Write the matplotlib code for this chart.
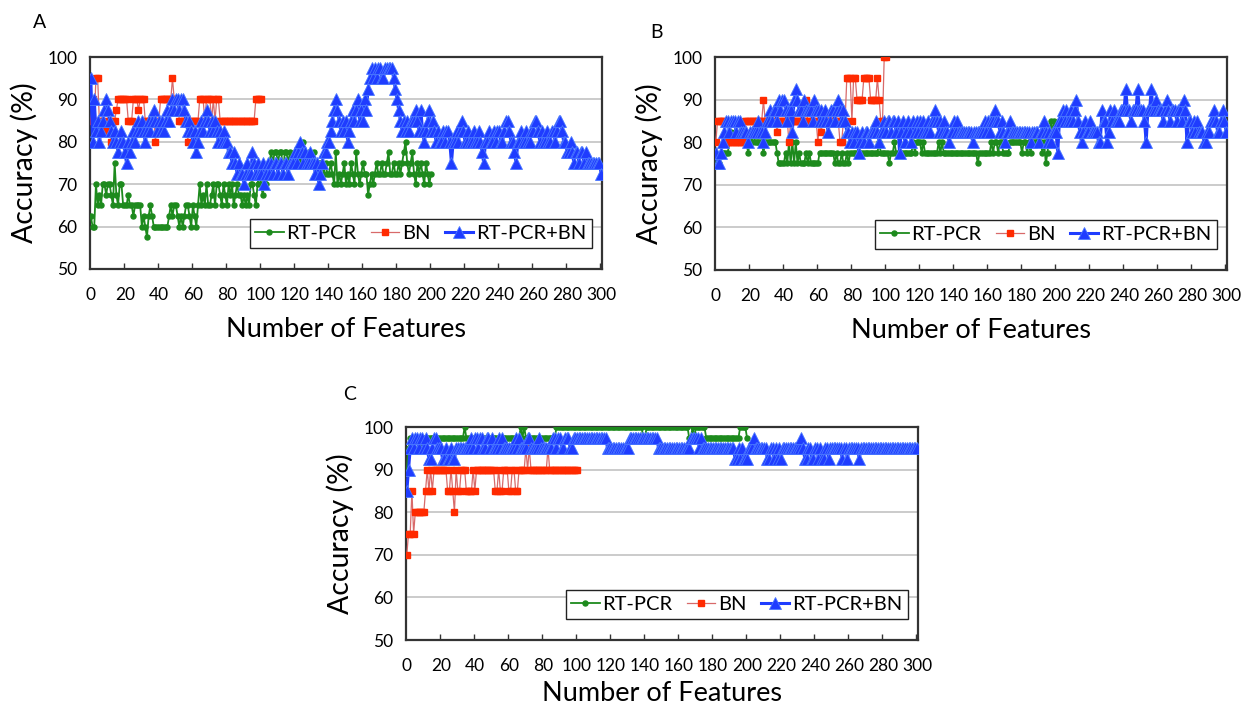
import matplotlib
matplotlib.use("Agg")
import matplotlib.pyplot as plt
from matplotlib.ticker import FixedLocator

plt.rcParams['font.family'] = ['Lato', 'DejaVu Sans']

# ---------------- Panel A ----------------
a_rtpcr = [
    62.5, 60, 60, 70, 65, 67.5, 65, 70, 70, 67.5,
    70, 70, 67.5, 65, 75, 67.5, 65, 70, 70, 65,
    65, 65, 67.5, 65, 65, 62.5, 65, 65, 65, 65,
    60, 62.5, 60, 57.5, 62.5, 65, 62.5, 60, 60, 60,
    60, 60, 60, 60, 60, 60, 62.5, 65, 62.5, 65,
    65, 62.5, 60, 62.5, 60, 62.5, 65, 65, 62.5, 60,
    65, 62.5, 60, 65, 70, 65, 67.5, 65, 70, 65,
    65, 67.5, 70, 65, 70, 70, 67.5, 65, 70, 67.5,
    65, 70, 67.5, 70, 65, 67.5, 70, 67.5, 67.5, 65,
    67.5, 65, 67.5, 65, 70, 70, 67.5, 65, 70, 72.5,
    70, 67.5, 70, 70, 72.5, 75, 77.5, 75, 77.5, 77.5,
    75, 77.5, 77.5, 72.5, 77.5, 77.5, 75, 77.5, 75, 75,
    75, 75, 77.5, 75, 77.5, 80, 75, 75, 77.5, 77.5,
    75, 77.5, 75, 75, 75, 75, 75, 72.5, 75, 72.5,
    72.5, 75, 72.5, 70, 77.5, 70, 72.5, 70, 72.5, 75,
    70, 72.5, 70, 75, 72.5, 70, 77.5, 72.5, 70, 72.5,
    75, 72.5, 72.5, 67.5, 70, 72.5, 70, 72.5, 75, 72.5,
    72.5, 75, 72.5, 72.5, 75, 77.5, 72.5, 72.5, 75, 72.5,
    72.5, 75, 72.5, 75, 77.5, 80, 75, 72.5, 75, 77.5,
    72.5, 70, 75, 72.5, 75, 72.5, 70, 75, 72.5, 70,
    72.5]
a_bn = [
    85, 90, 85, 95, 95, 85, 85, 85, 82.5, 82.5,
    85, 85, 80, 85, 85, 87.5, 90, 90, 90, 90,
    90, 90, 85, 85, 85, 90, 90, 90, 87.5, 90,
    90, 90, 85, 85, 85, 85, 85, 85, 80, 85,
    85, 90, 90, 90, 90, 90, 90, 90, 95, 90,
    90, 90, 85, 85, 85, 85, 85, 80, 85, 85,
    85, 85, 85, 85, 90, 90, 90, 85, 90, 90,
    90, 85, 90, 85, 90, 90, 85, 85, 85, 85,
    85, 85, 85, 85, 85, 85, 85, 85, 85, 85,
    85, 85, 85, 85, 85, 85, 85, 90, 90, 90,
    90]
a_both = [
    95, 80, 90, 82.5, 85, 80, 82.5, 85, 87.5, 90,
    87.5, 85, 82.5, 80, 82.5, 80, 77.5, 80, 82.5, 80,
    77.5, 75, 80, 77.5, 80, 82.5, 80, 82.5, 85, 82.5,
    85, 82.5, 80, 82.5, 85, 82.5, 85, 87.5, 85, 82.5,
    85, 82.5, 85, 82.5, 85, 87.5, 85, 87.5, 90, 87.5,
    90, 90, 87.5, 90, 90, 87.5, 85, 82.5, 85, 82.5,
    80, 82.5, 77.5, 80, 82.5, 85, 82.5, 85, 87.5, 85,
    82.5, 85, 82.5, 85, 82.5, 80, 82.5, 80, 82.5, 80,
    80, 77.5, 77.5, 75, 77.5, 75, 72.5, 75, 72.5, 72.5,
    70, 72.5, 75, 72.5, 72.5, 77.5, 75, 72.5, 75, 72.5,
    72.5, 75, 70, 72.5, 75, 72.5, 75, 72.5, 75, 75,
    72.5, 75, 75, 72.5, 75, 75, 72.5, 75, 75, 75,
    77.5, 75, 77.5, 80, 77.5, 75, 77.5, 75, 75, 77.5,
    75, 75, 72.5, 75, 70, 72.5, 75, 77.5, 77.5, 80,
    80, 82.5, 85, 87.5, 90, 87.5, 85, 82.5, 85, 82.5,
    85, 80, 82.5, 85, 87.5, 85, 87.5, 90, 85, 87.5,
    85, 90, 87.5, 92.5, 95, 97.5, 95, 97.5, 95, 97.5,
    97.5, 95, 95, 97.5, 97.5, 97.5, 97.5, 97.5, 95, 92.5,
    90, 87.5, 85, 82.5, 85, 82.5, 85, 82.5, 85, 85,
    85, 87.5, 85, 82.5, 87.5, 82.5, 80, 82.5, 85, 87.5,
    82.5, 85, 82.5, 80, 82.5, 80, 80, 82.5, 80, 82.5,
    82.5, 80, 75, 80, 80, 82.5, 80, 82.5, 85, 82.5,
    80, 80, 82.5, 80, 80, 82.5, 80, 80, 82.5, 80,
    77.5, 75, 80, 80, 82.5, 80, 80, 82.5, 80, 82.5,
    82.5, 80, 80, 82.5, 85, 85, 82.5, 80, 80, 77.5,
    75, 80, 80, 82.5, 80, 80, 82.5, 80, 80, 82.5,
    82.5, 85, 85, 82.5, 80, 82.5, 80, 80, 82.5, 80,
    80, 82.5, 82.5, 80, 82.5, 85, 85, 82.5, 80, 80,
    77.5, 77.5, 80, 77.5, 75, 77.5, 77.5, 75, 77.5, 77.5,
    75, 77.5, 75, 75, 75, 75, 75, 75, 75, 75,
    72.5]

# ---------------- Panel B ----------------
b_rtpcr = [
    75, 75, 75, 77.5, 77.5, 77.5, 77.5, 77.5, 80, 82.5,
    80, 82.5, 80, 80, 82.5, 80, 80, 82.5, 80, 77.5,
    80, 80, 82.5, 80, 80, 80, 80, 80, 77.5, 80,
    80, 80, 80, 80, 80, 80, 77.5, 75, 75, 75,
    75, 77.5, 75, 80, 75, 80, 75, 80, 75, 77.5,
    75, 75, 75, 77.5, 75, 77.5, 75, 75, 75, 75,
    75, 77.5, 77.5, 77.5, 77.5, 77.5, 77.5, 77.5, 77.5, 77.5,
    75, 77.5, 75, 75, 77.5, 75, 75, 77.5, 75, 77.5,
    77.5, 77.5, 77.5, 77.5, 77.5, 77.5, 77.5, 77.5, 77.5, 77.5,
    77.5, 77.5, 77.5, 77.5, 77.5, 77.5, 80, 77.5, 77.5, 77.5,
    77.5, 77.5, 75, 77.5, 77.5, 80, 77.5, 77.5, 77.5, 77.5,
    77.5, 77.5, 77.5, 77.5, 77.5, 77.5, 80, 77.5, 80, 80,
    80, 77.5, 80, 77.5, 77.5, 77.5, 77.5, 77.5, 77.5, 77.5,
    77.5, 80, 77.5, 80, 77.5, 77.5, 77.5, 77.5, 77.5, 77.5,
    77.5, 77.5, 77.5, 77.5, 77.5, 77.5, 77.5, 77.5, 77.5, 77.5,
    77.5, 77.5, 77.5, 77.5, 75, 77.5, 77.5, 77.5, 77.5, 77.5,
    77.5, 77.5, 80, 77.5, 80, 80, 77.5, 80, 80, 77.5,
    77.5, 77.5, 77.5, 80, 80, 80, 80, 80, 80, 80,
    77.5, 80, 80, 77.5, 80, 77.5, 80, 80, 80, 80,
    80, 80, 77.5, 80, 75, 77.5, 82.5, 85, 82.5, 85,
    82.5]
b_bn = [
    80, 85, 85, 85, 85, 85, 80, 80, 80, 80,
    80, 80, 80, 80, 80, 80, 80, 85, 85, 85,
    85, 85, 85, 85, 85, 85, 85, 85, 90, 85,
    85, 85, 85, 85, 85, 85, 82.5, 85, 85, 85,
    85, 85, 85, 80, 85, 85, 85, 85, 85, 85,
    85, 85, 85, 90, 85, 85, 85, 85, 85, 85,
    80, 85, 82.5, 85, 85, 85, 85, 85, 85, 85,
    85, 85, 85, 80, 80, 85, 85, 95, 95, 95,
    85, 95, 95, 90, 90, 90, 90, 95, 95, 95,
    95, 90, 90, 90, 90, 95, 90, 85, 85, 100,
    100]
b_both = [
    77.5, 75, 75, 77.5, 80, 82.5, 85, 85, 82.5, 85,
    85, 85, 82.5, 85, 85, 82.5, 82.5, 82.5, 82.5, 80,
    82.5, 82.5, 82.5, 82.5, 82.5, 85, 82.5, 82.5, 80, 82.5,
    85, 85, 87.5, 85, 87.5, 87.5, 85, 90, 87.5, 90,
    90, 87.5, 85, 87.5, 87.5, 82.5, 90, 92.5, 90, 87.5,
    87.5, 85, 90, 87.5, 87.5, 87.5, 87.5, 85, 90, 87.5,
    87.5, 85, 87.5, 85, 87.5, 85, 82.5, 85, 87.5, 87.5,
    85, 87.5, 90, 87.5, 85, 87.5, 85, 82.5, 82.5, 80,
    82.5, 80, 82.5, 82.5, 77.5, 80, 82.5, 80, 82.5, 82.5,
    80, 82.5, 82.5, 82.5, 85, 82.5, 80, 82.5, 82.5, 85,
    82.5, 85, 85, 82.5, 85, 85, 82.5, 85, 77.5, 82.5,
    85, 80, 82.5, 85, 82.5, 80, 85, 82.5, 85, 82.5,
    85, 82.5, 85, 82.5, 82.5, 85, 82.5, 85, 85, 87.5,
    85, 82.5, 85, 82.5, 85, 82.5, 82.5, 80, 82.5, 82.5,
    85, 82.5, 85, 82.5, 82.5, 82.5, 82.5, 82.5, 82.5, 82.5,
    82.5, 80, 82.5, 82.5, 82.5, 82.5, 82.5, 82.5, 85, 82.5,
    85, 82.5, 85, 85, 87.5, 85, 85, 82.5, 85, 82.5,
    80, 82.5, 82.5, 85, 82.5, 82.5, 82.5, 82.5, 82.5, 82.5,
    82.5, 82.5, 82.5, 82.5, 82.5, 80, 82.5, 82.5, 82.5, 82.5,
    80, 82.5, 82.5, 85, 82.5, 80, 82.5, 80, 82.5, 82.5,
    82.5, 77.5, 85, 85, 87.5, 85, 87.5, 85, 85, 87.5,
    85, 87.5, 90, 85, 82.5, 80, 82.5, 85, 82.5, 82.5,
    85, 82.5, 82.5, 82.5, 82.5, 80, 80, 87.5, 85, 85,
    80, 82.5, 87.5, 85, 87.5, 85, 85, 85, 87.5, 87.5,
    87.5, 92.5, 87.5, 87.5, 85, 87.5, 87.5, 87.5, 92.5, 87.5,
    87.5, 87.5, 85, 80, 87.5, 87.5, 92.5, 87.5, 87.5, 90,
    87.5, 87.5, 87.5, 85, 87.5, 90, 87.5, 85, 87.5, 87.5,
    87.5, 85, 87.5, 87.5, 85, 90, 87.5, 80, 85, 85,
    82.5, 85, 82.5, 85, 82.5, 82.5, 82.5, 80, 80, 82.5,
    82.5, 85, 85, 87.5, 85, 82.5, 82.5, 85, 87.5, 85,
    82.5]

# ---------------- Panel C ----------------
c_rtpcr = [
    90, 95, 97.5, 97.5, 95, 97.5, 97.5, 97.5, 95, 97.5,
    97.5, 97.5, 97.5, 97.5, 97.5, 97.5, 97.5, 97.5, 97.5, 97.5,
    97.5, 97.5, 97.5, 97.5, 97.5, 97.5, 97.5, 97.5, 97.5, 97.5,
    97.5, 97.5, 97.5, 97.5, 100, 97.5, 97.5, 97.5, 97.5, 97.5,
    97.5, 97.5, 97.5, 97.5, 97.5, 97.5, 97.5, 97.5, 97.5, 97.5,
    97.5, 97.5, 97.5, 97.5, 97.5, 97.5, 97.5, 97.5, 97.5, 97.5,
    97.5, 97.5, 97.5, 97.5, 97.5, 97.5, 97.5, 100, 97.5, 100,
    97.5, 97.5, 97.5, 97.5, 97.5, 97.5, 97.5, 97.5, 97.5, 97.5,
    97.5, 97.5, 97.5, 97.5, 97.5, 97.5, 97.5, 97.5, 100, 100,
    100, 100, 100, 100, 100, 100, 100, 100, 100, 100,
    100, 100, 100, 100, 100, 100, 100, 100, 100, 100,
    100, 100, 100, 100, 100, 100, 100, 100, 100, 100,
    100, 100, 100, 100, 100, 100, 100, 100, 100, 100,
    100, 100, 100, 100, 100, 100, 100, 100, 100, 97.5,
    97.5, 100, 100, 100, 100, 100, 100, 100, 100, 100,
    100, 100, 100, 100, 100, 100, 100, 100, 100, 100,
    100, 100, 100, 100, 100, 100, 97.5, 97.5, 100, 97.5,
    100, 100, 100, 100, 100, 100, 97.5, 97.5, 97.5, 97.5,
    97.5, 97.5, 97.5, 97.5, 97.5, 97.5, 97.5, 97.5, 97.5, 97.5,
    97.5, 97.5, 97.5, 97.5, 97.5, 97.5, 100, 100, 100, 100,
    97.5]
c_bn = [
    70, 75, 75, 85, 75, 80, 80, 80, 80, 80,
    80, 85, 90, 85, 90, 85, 90, 90, 90, 90,
    90, 90, 90, 90, 85, 85, 90, 85, 80, 90,
    85, 85, 90, 90, 90, 85, 85, 85, 85, 90,
    85, 90, 90, 90, 90, 90, 90, 90, 90, 90,
    90, 90, 85, 85, 90, 85, 85, 90, 90, 90,
    85, 85, 90, 90, 85, 85, 90, 90, 90, 90,
    95, 90, 95, 90, 90, 90, 90, 90, 90, 90,
    90, 90, 90, 95, 90, 90, 90, 90, 90, 90,
    90, 90, 90, 90, 90, 90, 90, 90, 90, 90,
    90]
c_both = [
    85, 90, 95, 97.5, 95, 97.5, 97.5, 95, 97.5, 97.5,
    95, 97.5, 95, 92.5, 92.5, 95, 97.5, 97.5, 95, 95,
    95, 92.5, 92.5, 95, 92.5, 92.5, 95, 92.5, 92.5, 95,
    95, 95, 95, 95, 95, 95, 95, 95, 97.5, 95,
    97.5, 97.5, 95, 97.5, 97.5, 95, 95, 97.5, 97.5, 95,
    97.5, 95, 95, 95, 97.5, 95, 97.5, 95, 95, 95,
    95, 95, 95, 95, 97.5, 95, 97.5, 95, 95, 95,
    95, 97.5, 97.5, 95, 95, 95, 95, 95, 97.5, 95,
    95, 95, 95, 95, 95, 95, 97.5, 97.5, 95, 97.5,
    97.5, 95, 95, 97.5, 97.5, 97.5, 95, 95, 97.5, 97.5,
    97.5, 97.5, 97.5, 97.5, 97.5, 97.5, 97.5, 97.5, 97.5, 97.5,
    97.5, 97.5, 97.5, 97.5, 97.5, 97.5, 97.5, 97.5, 95, 95,
    95, 95, 95, 95, 95, 95, 95, 95, 95, 95,
    95, 97.5, 97.5, 97.5, 97.5, 97.5, 97.5, 97.5, 97.5, 97.5,
    97.5, 97.5, 97.5, 97.5, 97.5, 97.5, 97.5, 97.5, 95, 95,
    95, 95, 95, 95, 95, 95, 95, 95, 95, 95,
    95, 95, 95, 95, 95, 95, 95, 97.5, 97.5, 97.5,
    97.5, 97.5, 95, 97.5, 95, 95, 95, 95, 95, 95,
    95, 95, 95, 95, 95, 95, 95, 95, 95, 95,
    95, 95, 95, 92.5, 92.5, 95, 92.5, 95, 92.5, 92.5,
    92.5, 95, 95, 95, 97.5, 95, 95, 95, 95, 95,
    95, 95, 92.5, 92.5, 95, 95, 92.5, 95, 92.5, 95,
    92.5, 95, 95, 95, 95, 95, 95, 95, 95, 95,
    95, 95, 97.5, 95, 92.5, 92.5, 95, 95, 92.5, 92.5,
    95, 95, 92.5, 95, 92.5, 92.5, 95, 95, 92.5, 95,
    95, 95, 95, 95, 95, 95, 92.5, 95, 95, 92.5,
    95, 95, 95, 95, 95, 95, 92.5, 95, 95, 95,
    95, 95, 95, 95, 95, 95, 95, 95, 95, 95,
    95, 95, 95, 95, 95, 95, 95, 95, 95, 95,
    95, 95, 95, 95, 95, 95, 95, 95, 95, 95,
    95]

x_ticklabels = [str(v) for v in range(0, 301, 20)]
y_ticks = [50, 60, 70, 80, 90, 100]
series_names = ["RT-PCR", "BN", "RT-PCR+BN"]

GREEN = "#1d8a1d"
RED_M = "#ff2a00"
RED_L = "#d86a6a"
BLUE = "#1f3cff"
BLUE_E = "#4a78ff"

fig = plt.figure(figsize=(12.43, 7.09), dpi=100)

def panel(rect, rt, bn, both, letter, letter_xy, xlabelpad):
    ax = fig.add_axes(rect)
    ax.plot(range(len(rt)), rt, color=GREEN, lw=1.3, marker='o', ms=3.6,
            mfc=GREEN, mec=GREEN, label=series_names[0], zorder=3)
    ax.plot(range(len(bn)), bn, color=RED_L, lw=0.9, marker='s', ms=4.8,
            mfc=RED_M, mec=RED_M, label=series_names[1], zorder=4)
    ax.plot(range(len(both)), both, color=BLUE, lw=2.2, marker='^', ms=8.5,
            mfc=BLUE, mec=BLUE_E, mew=0.6, label=series_names[2], zorder=5)
    ax.set_xlim(-0.5, 300.5)
    ax.set_ylim(50, 100)
    ax.set_yticks(y_ticks)
    ax.tick_params(axis='y', length=0, labelsize=12.5, pad=9)
    ax.xaxis.set_major_locator(FixedLocator(list(range(0, 301, 20))))
    ax.set_xticklabels(x_ticklabels)
    ax.xaxis.set_minor_locator(FixedLocator([v + 19.5 for v in range(0, 281, 20)]))
    ax.tick_params(axis='x', which='major', length=0, labelsize=12.5, pad=13)
    ax.tick_params(axis='x', which='minor', length=4, direction='in', width=1, color='#333333')
    for v in [60, 70, 80, 90]:
        ax.axhline(v, color='#bdbdbd', lw=1.1, zorder=1)
    for s in ax.spines.values():
        s.set_color('#333333')
        s.set_linewidth(1.6)
    ax.set_xlabel("Number of Features", fontsize=19.5, labelpad=xlabelpad)
    ax.set_ylabel("Accuracy (%)", fontsize=20.5, labelpad=7)
    leg = ax.legend(loc='lower right', bbox_to_anchor=(0.98, 0.10), ncol=3,
                    fontsize=14.5, frameon=True, fancybox=False, framealpha=1,
                    edgecolor='#222222', handlelength=1.4, handletextpad=0.15,
                    columnspacing=0.7, borderpad=0.28, borderaxespad=0)
    leg.get_frame().set_linewidth(1.0)
    fig.text(letter_xy[0], letter_xy[1], letter, fontsize=14, ha='center', va='center')
    return ax

panel([0.0724, 0.6206, 0.4119, 0.2990], a_rtpcr, a_bn, a_both, "A", (40 / 1243, 1 - 22 / 709), 10)
panel([0.5752, 0.6192, 0.4119, 0.3004], b_rtpcr, b_bn, b_both, "B", (657 / 1243, 1 - 32 / 709), 10)
panel([0.3266, 0.0973, 0.4119, 0.3004], c_rtpcr, c_bn, c_both, "C", (350 / 1243, 1 - 395 / 709), 5)

fig.savefig("out.png", dpi=100)
